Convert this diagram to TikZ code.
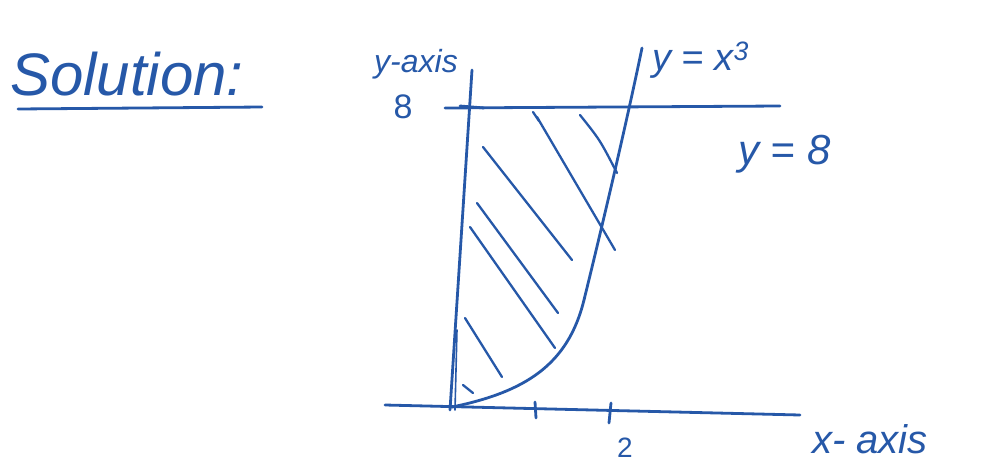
\documentclass[tikz,border=0pt]{standalone}
\usepackage{fontspec}
\setmainfont{Liberation Sans}
\definecolor{pen}{RGB}{38,88,168}
\begin{document}
\begin{tikzpicture}[x=1pt,y=-1pt,
  stroke/.style={draw=pen,line width=2.8pt,line cap=round,line join=round},
  hatch/.style={draw=pen,line width=2.3pt,line cap=round},
  lab/.style={text=pen,inner sep=0pt,font=\itshape}]
\useasboundingbox (0,0) rectangle (997,464);
% title
\node[lab,font=\itshape\fontsize{60}{66}\selectfont,anchor=base west] (sol) at (10,95) {Solution:};
\draw[stroke] (18,109) -- (262,107);
% axes
\coordinate (ytop) at (472,70);
\coordinate (ybot) at (450,410);
\coordinate (xl) at (385,405);
\coordinate (xr) at (800,415);
\draw[stroke] (ytop) -- (ybot);
\draw[stroke,line width=1.6pt] (457,330) -- (455,410);
\draw[stroke] (xl) -- (xr);
% ticks on x-axis
\coordinate (t1a) at (535,402); \coordinate (t1b) at (536,418);
\coordinate (t2a) at (611,403); \coordinate (t2b) at (609,423);
\draw[stroke] (t1a) -- (t1b);
\draw[stroke] (t2a) -- (t2b);
% line y=8
\coordinate (hl) at (445,108);
\coordinate (hr) at (780,106);
\draw[stroke] (hl) -- (hr);
\draw[stroke] (460,106) -- (484,108);
% curve y = x^3
\coordinate (c0) at (452,407);
\coordinate (cm) at (584,300);
\coordinate (c1) at (642,48);
\draw[stroke] (c0) .. controls (525,392) and (568,365) .. (cm) .. controls (600,235) and (625,130) .. (c1);
% hatching
\draw[hatch] (533,112) -- (539,121);
\draw[hatch] (537,117) -- (615,250);
\draw[hatch] (580,115) .. controls (600,140) .. (617,173);
\draw[hatch] (483,147) -- (572,260);
\draw[hatch] (477,203) -- (558,313);
\draw[hatch] (470,227) -- (555,348);
\draw[hatch] (465,318) -- (502,377);
\draw[hatch] (463,385) -- (473,393);
% labels
\node[lab,font=\itshape\fontsize{32}{36}\selectfont,anchor=base] (ylab) at (416,72) {y-axis};
\node[lab,font=\fontsize{34}{38}\selectfont,anchor=base] (eight) at (403,118) {8};
\node[lab,font=\itshape\fontsize{38}{42}\selectfont,anchor=base west] (cubic) at (652,70) {y = x\textsuperscript{3}};
\node[lab,font=\itshape\fontsize{42}{46}\selectfont,anchor=base west] (yeq) at (738,164) {y = 8};
\node[lab,font=\fontsize{28}{32}\selectfont,anchor=base] (two) at (625,457) {2};
\node[lab,font=\itshape\fontsize{40}{44}\selectfont,anchor=base west] (xlab) at (812,453) {x- axis};
\end{tikzpicture}
\end{document}
